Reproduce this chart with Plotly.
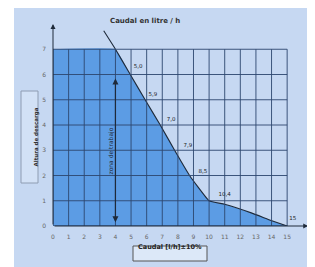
import plotly.graph_objects as go

# ---- data ----
flow_x = [0, 4.0, 4.95, 5.9, 6.87, 7.79, 8.75, 9.26, 10.0, 10.99, 12.7, 13.97, 15.0]
head_y = [7, 7.0, 6.0, 5.0, 4.0, 3.0, 2.0, 1.57, 1.0, 0.86, 0.52, 0.22, 0.0]
line_start = [3.25, 7.73]

label_text = ["5,0", "5,9", "7,0", "7,9", "8,5", "10,4", "15"]
label_x = [5.45, 6.4, 7.57, 8.64, 9.6, 10.99, 15.36]
label_y = [6.32, 5.19, 4.2, 3.2, 2.17, 1.25, 0.3]

x_ticks = list(range(0, 16))
y_ticks = list(range(0, 8))

title_text = "Caudal en litre / h"
ylabel_text = "Altura de descarga"
xlabel_text = "Caudal [l/h]±10%"
zone_text = "zona de trabajo"
zone_x, zone_top, zone_bottom = 4, 5.9, 0.15

# ---- layout geometry (page has an 8px body margin) ----
OFF = 8
W, H = 315 - OFF, 267 - OFF
L, R, T, B = 45, 6, 16, 41
PW, PH = W - L - R, H - T - B

def px(xp):
    return (xp - OFF - L) / PW

def py(yp):
    return 1 - (yp - OFF - T) / PH

BG = "#c6d8f2"
FILL = "#5c9ce4"
GRID = "#2c466e"
DARK = "#1e2a3a"
FONT = "DejaVu Sans"

fig = go.Figure()

fig.add_trace(go.Scatter(x=flow_x, y=head_y, mode="lines", fill="tozeroy",
                         fillcolor=FILL, line=dict(width=0, shape="spline", smoothing=0.3),
                         hoverinfo="skip"))
fig.add_trace(go.Scatter(x=[line_start[0]] + flow_x[1:], y=[line_start[1]] + head_y[1:],
                         mode="lines", line=dict(color=DARK, width=1.1, shape="spline", smoothing=0.3),
                         hoverinfo="skip"))
fig.add_trace(go.Scatter(x=label_x, y=label_y, mode="text", text=label_text,
                         textfont=dict(family=FONT, size=5.5, color="#222"),
                         cliponaxis=False, hoverinfo="skip"))

shapes = []
# white left strip
shapes.append(dict(type="rect", xref="paper", yref="paper", x0=px(0), x1=px(14),
                   y0=py(300), y1=py(-5), fillcolor="white", line=dict(width=0), layer="below"))
# grid
for xv in x_ticks:
    shapes.append(dict(type="line", xref="x", yref="y", x0=xv, x1=xv, y0=0, y1=max(y_ticks),
                       line=dict(color=GRID, width=0.9)))
for yv in y_ticks:
    shapes.append(dict(type="line", xref="x", yref="y", x0=0, x1=max(x_ticks), y0=yv, y1=yv,
                       line=dict(color=GRID, width=0.9)))
# label boxes
shapes.append(dict(type="rect", xref="paper", yref="paper", x0=px(21), x1=px(38),
                   y0=py(183), y1=py(91), fillcolor="#d2e1f6", line=dict(color="#8e9cb2", width=1)))
shapes.append(dict(type="rect", xref="paper", yref="paper", x0=px(133), x1=px(207),
                   y0=py(261), y1=py(246), fillcolor="#dce8f8", line=dict(color="#555", width=1)))

annotations = [
    # axis arrows
    dict(x=0, y=8, ax=0, ay=0, xref="x", yref="y", axref="x", ayref="y", text="",
         showarrow=True, arrowhead=2, arrowsize=1, arrowwidth=1, arrowcolor=DARK),
    dict(x=16.35, y=0, ax=0, ay=0, xref="x", yref="y", axref="x", ayref="y", text="",
         showarrow=True, arrowhead=2, arrowsize=1, arrowwidth=1, arrowcolor=DARK),
    # zone double arrow
    dict(x=zone_x, y=zone_bottom, ax=zone_x, ay=zone_top, xref="x", yref="y", axref="x", ayref="y",
         text="", showarrow=True, arrowhead=2, startarrowhead=2, arrowside="end+start",
         arrowsize=1, arrowwidth=1.2, arrowcolor=DARK),
    dict(x=px(110.5), y=py(151), xref="paper", yref="paper", text=zone_text, textangle=-90,
         xanchor="center", showarrow=False, font=dict(family=FONT, size=6, color=DARK)),
    dict(x=px(108), y=py(15), xref="paper", yref="paper", text="<b>" + title_text + "</b>",
         showarrow=False, font=dict(family=FONT, size=7, color="#333")),
    dict(x=px(30), y=py(137), xref="paper", yref="paper", text="<b>" + ylabel_text + "</b>",
         textangle=-90, showarrow=False, font=dict(family=FONT, size=5.5, color="#333")),
    dict(x=px(170), y=py(253.5), xref="paper", yref="paper", text="<b>" + xlabel_text + "</b>",
         showarrow=False, font=dict(family=FONT, size=6.5, color="#222")),
]

fig.update_layout(
    width=W, height=H, margin=dict(l=L, r=R, t=T, b=B),
    paper_bgcolor=BG, plot_bgcolor=BG, showlegend=False,
    shapes=shapes, annotations=annotations,
    xaxis=dict(range=[0, 16.4], tickvals=x_ticks, showgrid=False, zeroline=False,
               showline=False, ticks="", ticklabelstandoff=6,
               tickfont=dict(family=FONT, size=6, color="#666"), fixedrange=True),
    yaxis=dict(range=[0, 8], tickvals=y_ticks, showgrid=False, zeroline=False,
               showline=False, ticks="", ticklabelstandoff=6,
               tickfont=dict(family=FONT, size=6, color="#666"), fixedrange=True),
)

fig.write_html("out.html")
